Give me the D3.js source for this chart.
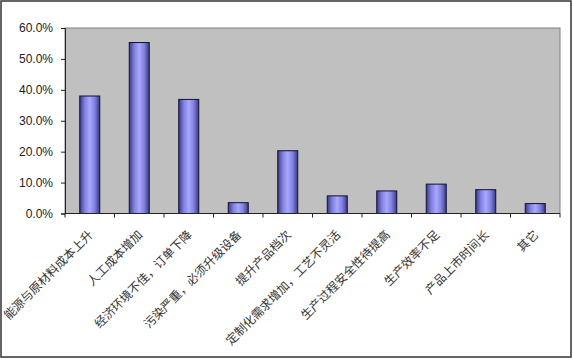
<!DOCTYPE html>
<html>
<head>
<meta charset="utf-8">
<script src="https://cdn.jsdelivr.net/npm/d3@7/dist/d3.min.js"></script>
<style>
  html, body { margin: 0; padding: 0; background: #fff; }
  svg { display: block; }
</style>
</head>
<body>
<svg id="chart" width="573" height="359"></svg>
<script>
// Reasons for change (share of respondents)
const categories = [
  "能源与原材料成本上升",
  "人工成本增加",
  "经济环境不佳，订单下降",
  "污染严重，必须升级设备",
  "提升产品档次",
  "定制化需求增加，工艺不灵活",
  "生产过程安全性待提高",
  "生产效率不足",
  "产品上市时间长",
  "其它"
];
const values = [0.380, 0.553, 0.369, 0.035, 0.203, 0.057, 0.073, 0.095, 0.077, 0.032];
const yTicks = [0, 0.1, 0.2, 0.3, 0.4, 0.5, 0.6];

const W = 573, H = 359;
const plot = { left: 65, top: 28, right: 560, bottom: 213.5 };

const svg = d3.select("#chart");

// bar gradient: dark edges, light centre
const defs = svg.append("defs");
const grad = defs.append("linearGradient").attr("id", "barGrad")
  .attr("x1", "0%").attr("x2", "100%").attr("y1", "0%").attr("y2", "0%");
grad.append("stop").attr("offset", "0%").attr("stop-color", "#3a3a80");
grad.append("stop").attr("offset", "25%").attr("stop-color", "#8080e0");
grad.append("stop").attr("offset", "50%").attr("stop-color", "#a8a8ff");
grad.append("stop").attr("offset", "75%").attr("stop-color", "#8080e0");
grad.append("stop").attr("offset", "100%").attr("stop-color", "#3a3a80");

// outer frame
svg.append("rect").attr("x", 1).attr("y", 1).attr("width", W - 3).attr("height", H - 3)
  .attr("fill", "#fff").attr("stroke", "#333").attr("stroke-width", 1.5);

const xb = d3.scaleBand().domain(categories).range([plot.left, plot.right]);
const y = d3.scaleLinear().domain([0, 0.6]).range([plot.bottom, plot.top]);

// plot area
svg.append("rect")
  .attr("x", plot.left).attr("y", plot.top)
  .attr("width", plot.right - plot.left).attr("height", plot.bottom - plot.top)
  .attr("fill", "#c0c0c0").attr("stroke", "#808080").attr("stroke-width", 1);

// bars
svg.append("g").selectAll("rect").data(values).join("rect")
  .attr("x", (d, i) => xb(categories[i]) + xb.bandwidth() / 2 - 10)
  .attr("width", 20)
  .attr("y", d => y(d))
  .attr("height", d => plot.bottom - y(d))
  .attr("fill", "url(#barGrad)")
  .attr("stroke", "#10103a").attr("stroke-width", 1);

// y axis
const yAxis = d3.axisLeft(y).tickValues(yTicks).tickFormat(d3.format(".1%")).tickSize(4).tickPadding(8);
const gy = svg.append("g").attr("transform", `translate(${plot.left},0)`).call(yAxis);
gy.select(".domain").attr("stroke", "#222");
gy.selectAll(".tick line").attr("stroke", "#222");
gy.selectAll(".tick text").attr("font-family", "Arial, 'Liberation Sans', sans-serif")
  .attr("font-size", 12).attr("fill", "#222");

// x axis: ticks between categories
const boundaries = d3.range(categories.length + 1).map(i => plot.left + i * xb.step());
const gx = svg.append("g");
gx.append("line").attr("x1", plot.left).attr("x2", plot.right)
  .attr("y1", plot.bottom).attr("y2", plot.bottom).attr("stroke", "#222");
gx.selectAll("line.tk").data(boundaries).join("line").attr("class", "tk")
  .attr("x1", d => d).attr("x2", d => d)
  .attr("y1", plot.bottom).attr("y2", plot.bottom + 4).attr("stroke", "#222");

// rotated category labels
svg.append("g").selectAll("text").data(categories).join("text")
  .attr("transform", d => `translate(${xb(d) + xb.bandwidth() / 2 + 4},${plot.bottom + 22}) rotate(-45)`)
  .attr("text-anchor", "end")
  .attr("font-family", "'Noto Sans CJK SC', sans-serif")
  .attr("font-size", 12)
  .attr("fill", "#333")
  .text(d => d);
</script>
</body>
</html>
